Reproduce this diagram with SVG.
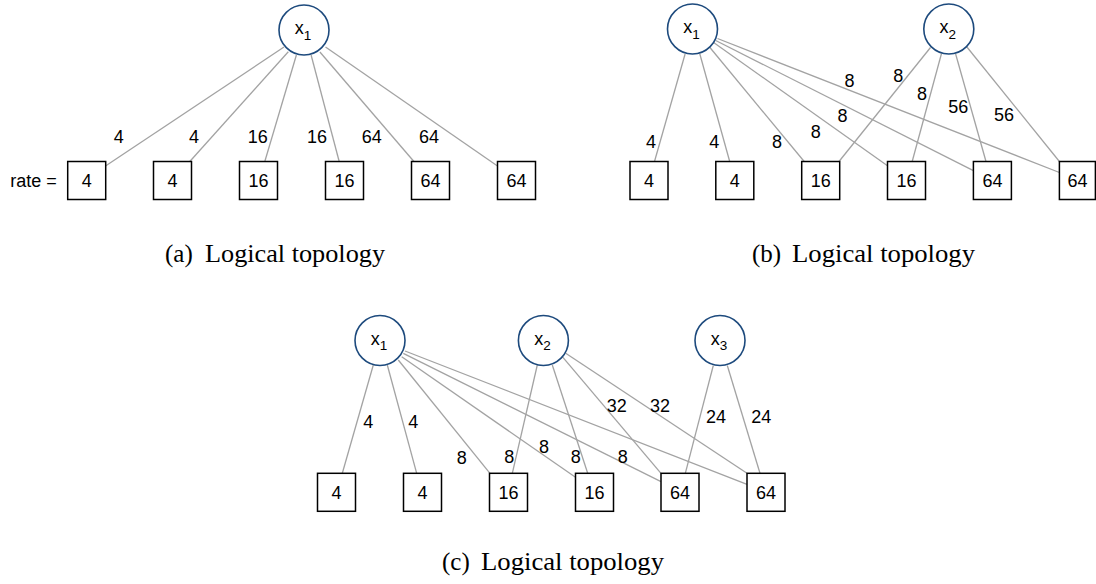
<svg xmlns="http://www.w3.org/2000/svg" width="1096" height="584" viewBox="0 0 1096 584">
  <style>
    .edge { stroke: #a3a3a3; stroke-width: 1.3; fill: none; }
    .var { fill: #ffffff; stroke: #1d4a7d; stroke-width: 1.6; }
    .box { fill: #ffffff; stroke: #000000; stroke-width: 1.5; }
    .t { font-family: "Liberation Sans", Arial, sans-serif; font-size: 18px; fill: #000000; text-anchor: middle; }
    .lbl { font-family: "Liberation Sans", Arial, sans-serif; font-size: 18px; fill: #000000; text-anchor: middle; }
    .sub { font-size: 13.5px; }
    .cap { font-family: "Liberation Serif", "Times New Roman", serif; font-size: 25px; fill: #000000; }
  </style>

  <!-- ===== (a) one variable ===== -->
  <g id="a-edges">
    <line class="edge" x1="284" y1="47" x2="105.5" y2="166"/>
    <line class="edge" x1="288.3" y1="51.7" x2="189.8" y2="161.5"/>
    <line class="edge" x1="296.4" y1="55" x2="264.8" y2="161.5"/>
    <line class="edge" x1="311.1" y1="55" x2="339.2" y2="161.5"/>
    <line class="edge" x1="319.9" y1="52" x2="413.9" y2="161.5"/>
    <line class="edge" x1="325.5" y1="47" x2="497.5" y2="166"/>
  </g>
  <g id="a-edge-labels">
    <text class="lbl" x="118.8" y="142.5">4</text>
    <text class="lbl" x="194" y="142.5">4</text>
    <text class="lbl" x="257.8" y="142.5">16</text>
    <text class="lbl" x="317.1" y="142.5">16</text>
    <text class="lbl" x="371.8" y="142.5">64</text>
    <text class="lbl" x="429" y="142.5">64</text>
  </g>
  <g id="a-x1">
    <circle class="var" cx="304" cy="30" r="25"/>
    <text class="t" x="303" y="34">x<tspan class="sub" dy="5.5">1</tspan></text>
  </g>
  <text id="a-rate" class="t" x="33.5" y="186.5">rate =</text>
  <g id="a-f1"><rect class="box" x="67.7" y="161.5" width="38" height="38"/><text class="t" x="86.7" y="186.8">4</text></g>
  <g id="a-f2"><rect class="box" x="153.5" y="161.5" width="38" height="38"/><text class="t" x="172.5" y="186.8">4</text></g>
  <g id="a-f3"><rect class="box" x="239.5" y="161.5" width="38" height="38"/><text class="t" x="258.5" y="186.8">16</text></g>
  <g id="a-f4"><rect class="box" x="325.5" y="161.5" width="38" height="38"/><text class="t" x="344.5" y="186.8">16</text></g>
  <g id="a-f5"><rect class="box" x="411.5" y="161.5" width="38" height="38"/><text class="t" x="430.5" y="186.8">64</text></g>
  <g id="a-f6"><rect class="box" x="497.5" y="161.5" width="38" height="38"/><text class="t" x="516.5" y="186.8">64</text></g>
  <g id="a-caption">
    <text class="cap" x="165" y="262">(a)</text>
    <text class="cap" x="205" y="262" textLength="180" lengthAdjust="spacingAndGlyphs">Logical topology</text>
  </g>

  <!-- ===== (b) two variables ===== -->
  <g id="b-edges">
    <line class="edge" x1="685.1" y1="54" x2="654.5" y2="161.5"/>
    <line class="edge" x1="699.7" y1="53.5" x2="729.7" y2="161.5"/>
    <line class="edge" x1="709.5" y1="47" x2="804.2" y2="161.5"/>
    <line class="edge" x1="713.6" y1="42.5" x2="887.5" y2="165.7"/>
    <line class="edge" x1="715.7" y1="40.5" x2="973.4" y2="170.7"/>
    <line class="edge" x1="717.5" y1="38.5" x2="1059.4" y2="172.5"/>
    <line class="edge" x1="930.5" y1="47.5" x2="839" y2="161.5"/>
    <line class="edge" x1="941.5" y1="53.5" x2="912.2" y2="161.5"/>
    <line class="edge" x1="955.5" y1="53.5" x2="986" y2="161.5"/>
    <line class="edge" x1="966.5" y1="46.5" x2="1059.4" y2="161.5"/>
  </g>
  <g id="b-edge-labels">
    <text class="lbl" x="651" y="147.5">4</text>
    <text class="lbl" x="714.3" y="147.5">4</text>
    <text class="lbl" x="777" y="147.5">8</text>
    <text class="lbl" x="815.7" y="137.5">8</text>
    <text class="lbl" x="842.5" y="122">8</text>
    <text class="lbl" x="849.4" y="87">8</text>
    <text class="lbl" x="898.2" y="82">8</text>
    <text class="lbl" x="922" y="100">8</text>
    <text class="lbl" x="958.2" y="112.5">56</text>
    <text class="lbl" x="1004" y="121">56</text>
  </g>
  <g id="b-x1">
    <circle class="var" cx="692.5" cy="29" r="25"/>
    <text class="t" x="691.5" y="33">x<tspan class="sub" dy="5.5">1</tspan></text>
  </g>
  <g id="b-x2">
    <circle class="var" cx="948.8" cy="29" r="25"/>
    <text class="t" x="947.8" y="33">x<tspan class="sub" dy="5.5">2</tspan></text>
  </g>
  <g id="b-f1"><rect class="box" x="630" y="161.5" width="38" height="38"/><text class="t" x="649" y="186.8">4</text></g>
  <g id="b-f2"><rect class="box" x="715.8" y="161.5" width="38" height="38"/><text class="t" x="734.8" y="186.8">4</text></g>
  <g id="b-f3"><rect class="box" x="801.7" y="161.5" width="38" height="38"/><text class="t" x="820.7" y="186.8">16</text></g>
  <g id="b-f4"><rect class="box" x="887.5" y="161.5" width="38" height="38"/><text class="t" x="906.5" y="186.8">16</text></g>
  <g id="b-f5"><rect class="box" x="973.4" y="161.5" width="38" height="38"/><text class="t" x="992.4" y="186.8">64</text></g>
  <g id="b-f6"><rect class="box" x="1059.4" y="161.5" width="36" height="38"/><text class="t" x="1077.4" y="186.8">64</text></g>
  <g id="b-caption">
    <text class="cap" x="752" y="262">(b)</text>
    <text class="cap" x="792" y="262" textLength="183" lengthAdjust="spacingAndGlyphs">Logical topology</text>
  </g>

  <!-- ===== (c) three variables ===== -->
  <g id="c-edges">
    <line class="edge" x1="373.3" y1="365" x2="342.3" y2="473.3"/>
    <line class="edge" x1="387.3" y1="365" x2="416.7" y2="473.3"/>
    <line class="edge" x1="398.3" y1="360" x2="490" y2="473.3"/>
    <line class="edge" x1="401.7" y1="356.7" x2="575.5" y2="477.3"/>
    <line class="edge" x1="403.3" y1="353.3" x2="661" y2="481.7"/>
    <line class="edge" x1="405" y1="351" x2="747" y2="484.3"/>
    <line class="edge" x1="537.3" y1="365" x2="512.3" y2="473.3"/>
    <line class="edge" x1="552.3" y1="365" x2="587.7" y2="473.3"/>
    <line class="edge" x1="562.3" y1="356.7" x2="661" y2="473.3"/>
    <line class="edge" x1="565.7" y1="353.3" x2="747" y2="473.3"/>
    <line class="edge" x1="713.3" y1="365.5" x2="685.3" y2="473.3"/>
    <line class="edge" x1="727.3" y1="365.5" x2="760" y2="473.3"/>
  </g>
  <g id="c-edge-labels">
    <text class="lbl" x="368.3" y="427.7">4</text>
    <text class="lbl" x="413.3" y="427.7">4</text>
    <text class="lbl" x="461.7" y="464.3">8</text>
    <text class="lbl" x="509.3" y="463.3">8</text>
    <text class="lbl" x="544" y="452.7">8</text>
    <text class="lbl" x="575.7" y="463.3">8</text>
    <text class="lbl" x="622.7" y="462.7">8</text>
    <text class="lbl" x="616.7" y="412">32</text>
    <text class="lbl" x="660" y="412">32</text>
    <text class="lbl" x="716" y="422.7">24</text>
    <text class="lbl" x="761.3" y="422.7">24</text>
  </g>
  <g id="c-x1">
    <circle class="var" cx="380" cy="340.5" r="25"/>
    <text class="t" x="379" y="344.5">x<tspan class="sub" dy="5.5">1</tspan></text>
  </g>
  <g id="c-x2">
    <circle class="var" cx="543.4" cy="340.5" r="25"/>
    <text class="t" x="542.4" y="344.5">x<tspan class="sub" dy="5.5">2</tspan></text>
  </g>
  <g id="c-x3">
    <circle class="var" cx="720" cy="340.5" r="25"/>
    <text class="t" x="719" y="344.5">x<tspan class="sub" dy="5.5">3</tspan></text>
  </g>
  <g id="c-f1"><rect class="box" x="317.5" y="473.3" width="38" height="38"/><text class="t" x="336.5" y="498.6">4</text></g>
  <g id="c-f2"><rect class="box" x="403.5" y="473.3" width="38" height="38"/><text class="t" x="422.5" y="498.6">4</text></g>
  <g id="c-f3"><rect class="box" x="489.5" y="473.3" width="38" height="38"/><text class="t" x="508.5" y="498.6">16</text></g>
  <g id="c-f4"><rect class="box" x="575.5" y="473.3" width="38" height="38"/><text class="t" x="594.5" y="498.6">16</text></g>
  <g id="c-f5"><rect class="box" x="661" y="473.3" width="38" height="38"/><text class="t" x="680" y="498.6">64</text></g>
  <g id="c-f6"><rect class="box" x="747" y="473.3" width="38" height="38"/><text class="t" x="766" y="498.6">64</text></g>
  <g id="c-caption">
    <text class="cap" x="442" y="570">(c)</text>
    <text class="cap" x="481" y="570" textLength="183" lengthAdjust="spacingAndGlyphs">Logical topology</text>
  </g>
</svg>
